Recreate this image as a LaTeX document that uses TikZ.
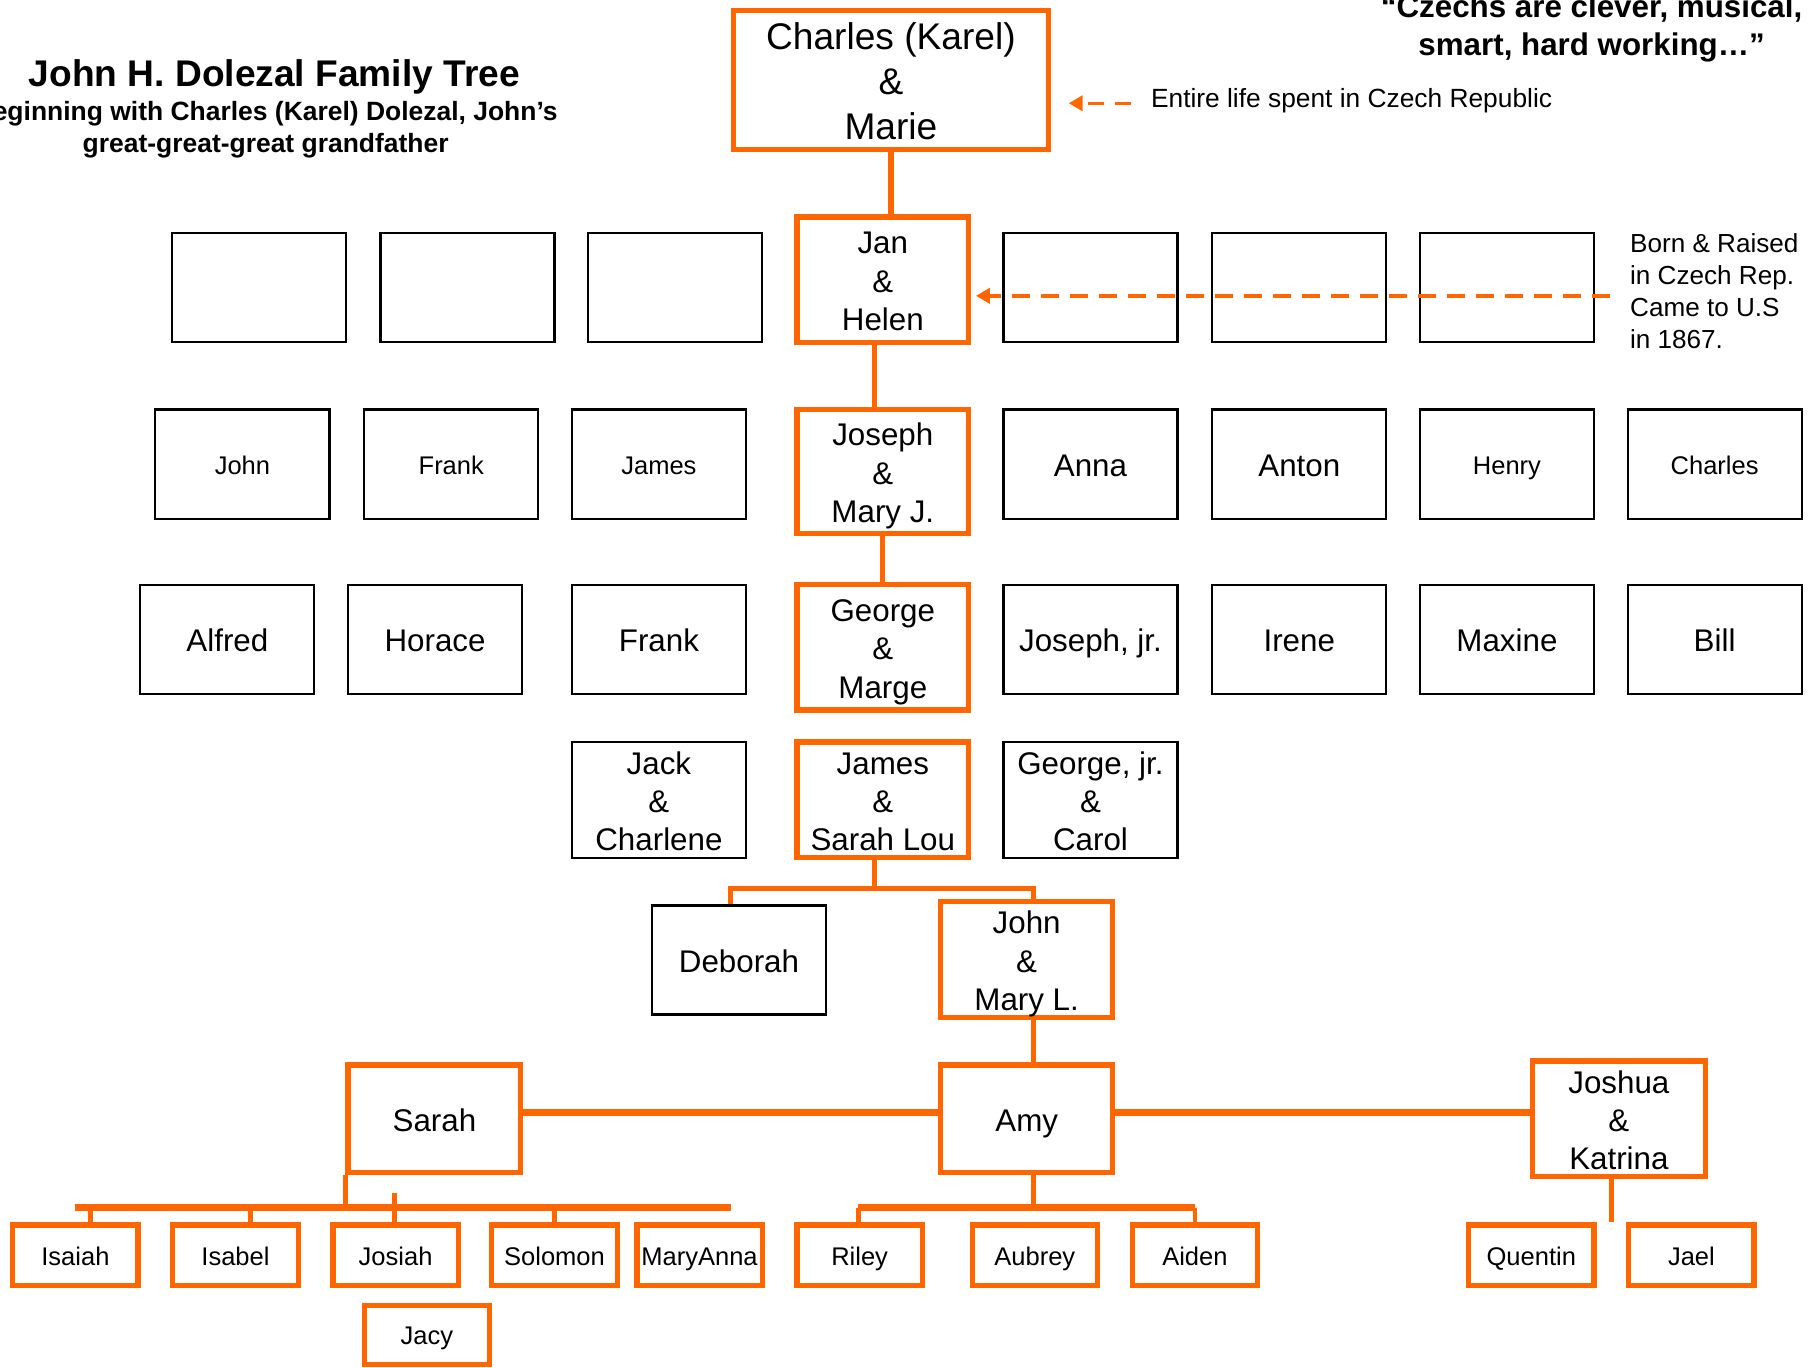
\documentclass[tikz,border=0pt]{standalone}
\usepackage{fontspec}
\setmainfont{Liberation Sans}
\usetikzlibrary{arrows.meta}
\definecolor{orng}{RGB}{255,102,0}
\newcommand\mytopS{\rule{0pt}{27.8pt}}
\newcommand\mybotS{\rule[-6pt]{0pt}{6pt}}
\newcommand\mytopB{\rule{0pt}{32pt}}
\newcommand\mybotB{\rule[-7pt]{0pt}{7pt}}
\begin{document}
\begin{tikzpicture}[x=1pt,y=-1pt,
 obox/.style={draw=orng, line width=4.5pt, fill=white, inner sep=0pt, align=center, font=\fontsize{27}{33}\selectfont},
 bbox/.style={draw=black, line width=1.8pt, fill=white, inner sep=0pt, align=center, minimum width=150pt, minimum height=94pt, font=\fontsize{27}{33}\selectfont},
 one/.style={text height=27pt, text depth=6pt},
 small/.style={font=\fontsize{22}{27}\selectfont, text height=22pt, text depth=4.8pt},
 kid/.style={obox, minimum width=108pt, minimum height=52pt, small},
 conn/.style={draw=orng, line width=4.5pt},
 bar/.style={draw=orng, line width=6.5pt},
 tick/.style={draw=orng, line width=4pt},
 darrow/.style={draw=orng, line width=3pt, dash pattern=on 16pt off 9pt, -{Triangle[width=13pt,length=12pt]}},
]
\useasboundingbox (0,0) rectangle (1568,1179);

% titles and notes
\node[font=\bfseries\fontsize{32}{38}\selectfont] (title) at (236.5,66) {John H. Dolezal Family Tree};
\node[font=\bfseries\fontsize{22.8}{28}\selectfont, align=center] (sub) at (229,112) {Beginning with Charles (Karel) Dolezal, John’s\\great-great-great grandfather};
\node[font=\bfseries\fontsize{27}{33}\selectfont, align=center] (quote) at (1372,24.5) {“Czechs are clever, musical,\\smart, hard working…”};
\node[anchor=west, inner sep=0pt, font=\fontsize{22.7}{27}\selectfont] (entire) at (992,87) {Entire life spent in Czech Republic};
\node[anchor=west, inner sep=0pt, align=left, font=\fontsize{22.5}{27.7}\selectfont] (born) at (1405,251) {Born \& Raised\\in Czech Rep.\\Came to U.S\\in 1867.};

% main line
\node[obox, minimum width=272pt, minimum height=120pt, font=\fontsize{32}{38.5}\selectfont] (charles) at (768,69) {\mytopB Charles (Karel)\\\&\\Marie\mybotB};
\node[obox, minimum width=148pt, minimum height=108pt] (jan) at (761,241) {\mytopS Jan\\\&\\Helen\mybotS};
\node[obox, minimum width=148pt, minimum height=107pt] (joseph) at (761,406.5) {\mytopS Joseph\\\&\\Mary J.\mybotS};
\node[obox, minimum width=148pt, minimum height=108pt] (george) at (761,558) {\mytopS George\\\&\\Marge\mybotS};
\node[obox, minimum width=148pt, minimum height=93pt] (james) at (761,689.5) {\mytopS James\\\&\\Sarah Lou\mybotS};
\node[obox, minimum width=148pt, minimum height=94pt] (johnm) at (885,827) {\mytopS John\\\&\\Mary L.\mybotS};
\node[obox, one, minimum width=149pt, minimum height=93pt] (sarah) at (374.5,964.5) {Sarah};
\node[obox, one, minimum width=148pt, minimum height=93pt] (amy) at (885,964.5) {Amy};
\node[obox, minimum width=149pt, minimum height=93pt] (joshua) at (1395.5,964.5) {\mytopS Joshua\\\&\\Katrina\mybotS};

% row 2 blanks
\node[bbox] (b1) at (223,248) {};
\node[bbox] (b2) at (403,248) {};
\node[bbox] (b3) at (582,248) {};
\node[bbox] (b4) at (940,248) {};
\node[bbox] (b5) at (1120,248) {};
\node[bbox] (b6) at (1299,248) {};

% row 3
\node[bbox, small] (john1) at (209,400) {John};
\node[bbox, small] (frank1) at (389,400) {Frank};
\node[bbox, small] (james1) at (568,400) {James};
\node[bbox, one] (anna) at (940,400) {Anna};
\node[bbox, one] (anton) at (1120,400) {Anton};
\node[bbox, small] (henry) at (1299,400) {Henry};
\node[bbox, small] (charles2) at (1478,400) {Charles};

% row 4
\node[bbox, one] (alfred) at (196,551.5) {Alfred};
\node[bbox, one] (horace) at (375,551.5) {Horace};
\node[bbox, one] (frank2) at (568,551.5) {Frank};
\node[bbox, one] (josephjr) at (940,551.5) {Joseph, jr.};
\node[bbox, one] (irene) at (1120,551.5) {Irene};
\node[bbox, one] (maxine) at (1299,551.5) {Maxine};
\node[bbox, one] (bill) at (1478,551.5) {Bill};

% row 5
\node[bbox] (jack) at (568,689.5) {\mytopS Jack\\\&\\Charlene\mybotS};
\node[bbox] (georgejr) at (940,689.5) {\mytopS George, jr.\\\&\\Carol\mybotS};
\node[bbox, one] (deborah) at (637,827.5) {Deborah};

% grandchildren
\node[kid] (isaiah) at (65,1082) {Isaiah};
\node[kid] (isabel) at (203,1082) {Isabel};
\node[kid] (josiah) at (341,1082) {Josiah};
\node[kid] (solomon) at (478,1082) {Solomon};
\node[kid] (maryanna) at (603,1082) {MaryAnna};
\node[kid] (riley) at (741,1082) {Riley};
\node[kid] (aubrey) at (892,1082) {Aubrey};
\node[kid] (aiden) at (1030,1082) {Aiden};
\node[kid] (quentin) at (1320,1082) {Quentin};
\node[kid] (jael) at (1458,1082) {Jael};
\node[kid, minimum height=51pt] (jacy) at (368,1150.5) {Jacy};

% helper coordinates
\coordinate (jbar) at (754,766);
\coordinate (sbar) at (299,1041);
\coordinate (sbarL) at (65,1041);
\coordinate (sbarR) at (630,1041);
\coordinate (stray) at (340,1028);
\coordinate (abar) at (891,1041);
\coordinate (a1s) at (975,89);
\coordinate (a2s) at (1388,255);

% connectors
\draw[conn] (charles.south) -- (charles.south |- jan.north);
\draw[conn] ([xshift=-7pt]jan.south) -- ([xshift=-7pt]jan.south |- joseph.north);
\draw[conn] (joseph.south) -- (joseph.south |- george.north);
\draw[conn] ([xshift=-7pt]james.south) -- ([xshift=-7pt]james.south |- jbar);
\draw[conn] ([xshift=-7pt]deborah.north) -- ([xshift=-7pt]deborah.north |- jbar) -- ([xshift=6pt]johnm.north |- jbar) -- ([xshift=6pt]johnm.north);
\draw[conn] ([xshift=6pt]johnm.south) -- ([xshift=6pt]johnm.south |- amy.north);
\draw[bar] ([yshift=5.5pt]sarah.east) -- ([yshift=5.5pt]amy.west);
\draw[bar] ([yshift=5.5pt]amy.east) -- ([yshift=5.5pt]joshua.west);

\draw[conn] (sarah.south west) -- (sarah.south west |- sbar);
\draw[bar] (sbarL) -- (sbarR);
\draw[tick] ([xshift=13pt]isaiah.north) -- ([xshift=13pt]isaiah.north |- sbar);
\draw[tick] ([xshift=13pt]isabel.north) -- ([xshift=13pt]isabel.north |- sbar);
\draw[tick] ([xshift=-1pt]josiah.north) -- ([xshift=-1pt]josiah.north |- stray);
\draw[tick] (solomon.north) -- (solomon.north |- sbar);

\draw[conn] ([xshift=6pt]amy.south) -- ([xshift=6pt]amy.south |- abar);
\draw[bar] ([xshift=-1pt]riley.north |- abar) -- (aiden.north |- abar);
\draw[tick] ([xshift=-1pt]riley.north) -- ([xshift=-1pt]riley.north |- abar);
\draw[tick] (aiden.north) -- (aiden.north |- abar);

\draw[conn] ([xshift=-6.5pt]joshua.south) -- ([xshift=-6.5pt]joshua.south |- quentin.north);

% dashed arrows
\draw[darrow, dash pattern=on 14pt off 9pt] (a1s) -- ([xshift=15pt]charles.east |- a1s);
\draw[darrow] (a2s) -- ([xshift=4pt]jan.east |- a2s);
\end{tikzpicture}
\end{document}
